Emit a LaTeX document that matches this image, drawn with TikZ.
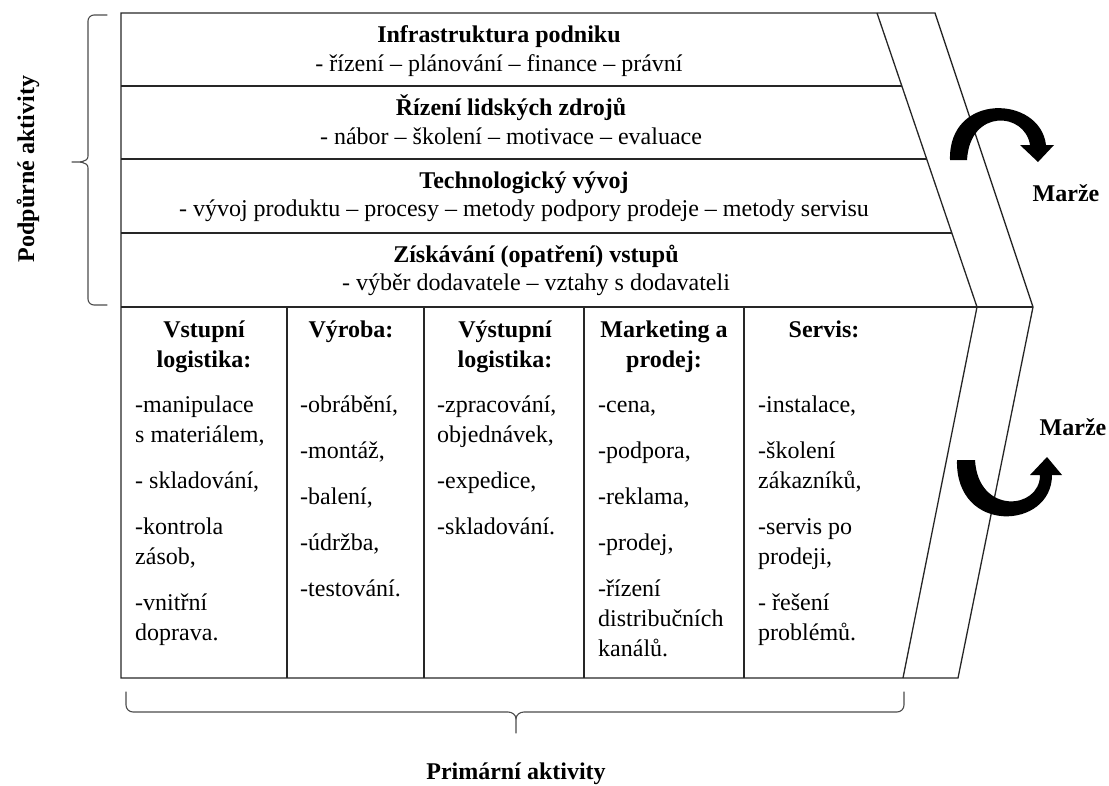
\documentclass[tikz,border=0pt]{standalone}
\usepackage{fontspec}
\setmainfont{Liberation Serif}
\usetikzlibrary{decorations.pathreplacing}

\begin{document}
\begin{tikzpicture}[x=1pt,y=-1pt,
  frame/.style={line width=1.3pt, draw=black!85},
  txt/.style={font=\fontsize{24}{29}\selectfont, inner sep=0pt},
  title/.style={txt, font=\fontsize{24}{29}\selectfont\bfseries, anchor=base},
  sub/.style={txt, anchor=base},
  head/.style={title},
  item/.style={txt, anchor=base west},
  curlarrow/.style={fill=black, draw=none},
  bracket/.style={line width=1.1pt, draw=black!70, line cap=round, line join=round}
]
\useasboundingbox (0,0) rectangle (1109,785);

% value chain outline with the margin chevron
\draw[frame] (121,13) -- (935,13) -- (1033,307) -- (958,678) -- (121,678) -- cycle;
\draw[frame] (877,13) -- (977,307) -- (903,678);

% support activity rows
\draw[frame] (121,86) -- (902,86);
\draw[frame] (121,159) -- (927,159);
\draw[frame] (121,233) -- (952,233);
\draw[frame] (121,307) -- (1033,307);

% primary activity columns
\foreach \x in {287,424,584,744}
  \draw[frame] (\x,307) -- (\x,678);

% support activities
\node[title] (r1t) at (499,42) {Infrastruktura podniku};
\node[sub]   (r1s) at (499,71) {- řízení – plánování – finance – právní};
\node[title] (r2t) at (511,115) {Řízení lidských zdrojů};
\node[sub]   (r2s) at (511,144) {- nábor – školení – motivace – evaluace};
\node[title] (r3t) at (524,188) {Technologický vývoj};
\node[sub]   (r3s) at (524,216) {- vývoj produktu – procesy – metody podpory prodeje – metody servisu};
\node[title] (r4t) at (536,262) {Získávání (opatření) vstupů};
\node[sub]   (r4s) at (536,290) {- výběr dodavatele – vztahy s dodavateli};

% primary activities: headings
\node[head] (h1a) at (204,337) {Vstupní};
\node[head] (h1b) at (204,367) {logistika:};
\node[head] (h2)  at (351,337) {Výroba:};
\node[head] (h3a) at (505,337) {Výstupní};
\node[head] (h3b) at (505,367) {logistika:};
\node[head] (h4a) at (664,337) {Marketing a};
\node[head] (h4b) at (664,367) {prodej:};
\node[head] (h5)  at (824,337) {Servis:};

% primary activities: items
\foreach \y/\t [count=\i] in {412/{-manipulace}, 442/{s materiálem,}, 488/{- skladování,},
    534/{-kontrola}, 564/{zásob,}, 610/{-vnitřní}, 640/{doprava.}}
  \node[item] (c1-\i) at (135,\y) {\t};
\foreach \y/\t [count=\i] in {412/{-obrábění,}, 458/{-montáž,}, 504/{-balení,},
    550/{-údržba,}, 596/{-testování.}}
  \node[item] (c2-\i) at (300,\y) {\t};
\foreach \y/\t [count=\i] in {412/{-zpracování,}, 442/{objednávek,}, 488/{-expedice,},
    534/{-skladování.}}
  \node[item] (c3-\i) at (437,\y) {\t};
\foreach \y/\t [count=\i] in {412/{-cena,}, 458/{-podpora,}, 504/{-reklama,}, 550/{-prodej,},
    596/{-řízení}, 626/{distribučních}, 656/{kanálů.}}
  \node[item] (c4-\i) at (598,\y) {\t};
\foreach \y/\t [count=\i] in {412/{-instalace,}, 458/{-školení}, 488/{zákazníků,},
    534/{-servis po}, 564/{prodeji,}, 610/{- řešení}, 640/{problémů.}}
  \node[item] (c5-\i) at (758,\y) {\t};

% margin labels
\node[title] (m1) at (1066,201) {Marže};
\node[title] (m2) at (1073,435) {Marže};

% curved margin arrows
\fill[curlarrow] (950,160) .. controls (948,92) and (1040,95) .. (1046,145)
  -- (1054,145) -- (1038,162) -- (1020,145) -- (1030,145)
  .. controls (1025,112) and (970,108) .. (967,160) -- cycle;
\fill[curlarrow] (957,460) .. controls (955,535) and (1052,530) .. (1052,475)
  -- (1062,475) -- (1047,457) -- (1030,475) -- (1040,475)
  .. controls (1040,510) and (978,515) .. (975,460) -- cycle;

% group braces
\coordinate (sb1) at (107,15);
\coordinate (sb2) at (107,305);
\coordinate (stip) at (72,162);
\draw[bracket] (sb1) -- (94,15) to[out=180,in=90] (88,21) -- (88,156)
  to[out=-90,in=0] (stip) to[out=0,in=90] (88,168) -- (88,299)
  to[out=-90,in=180] (94,305) -- (sb2);
\coordinate (pb1) at (126,692);
\coordinate (pb2) at (904,692);
\coordinate (ptip) at (516,733);
\draw[bracket] (pb1) -- (126,705) to[out=-90,in=180] (133,712) -- (508,712)
  to[out=0,in=90] (516,719) -- (ptip);
\draw[bracket] (516,719) to[out=90,in=180] (524,712) -- (897,712)
  to[out=0,in=-90] (904,705) -- (pb2);

\node[title, anchor=center, rotate=90] (sup) at (28,169) {Podpůrné aktivity};
\node[title] (prim) at (516,779) {Primární aktivity};
\end{tikzpicture}
\end{document}
